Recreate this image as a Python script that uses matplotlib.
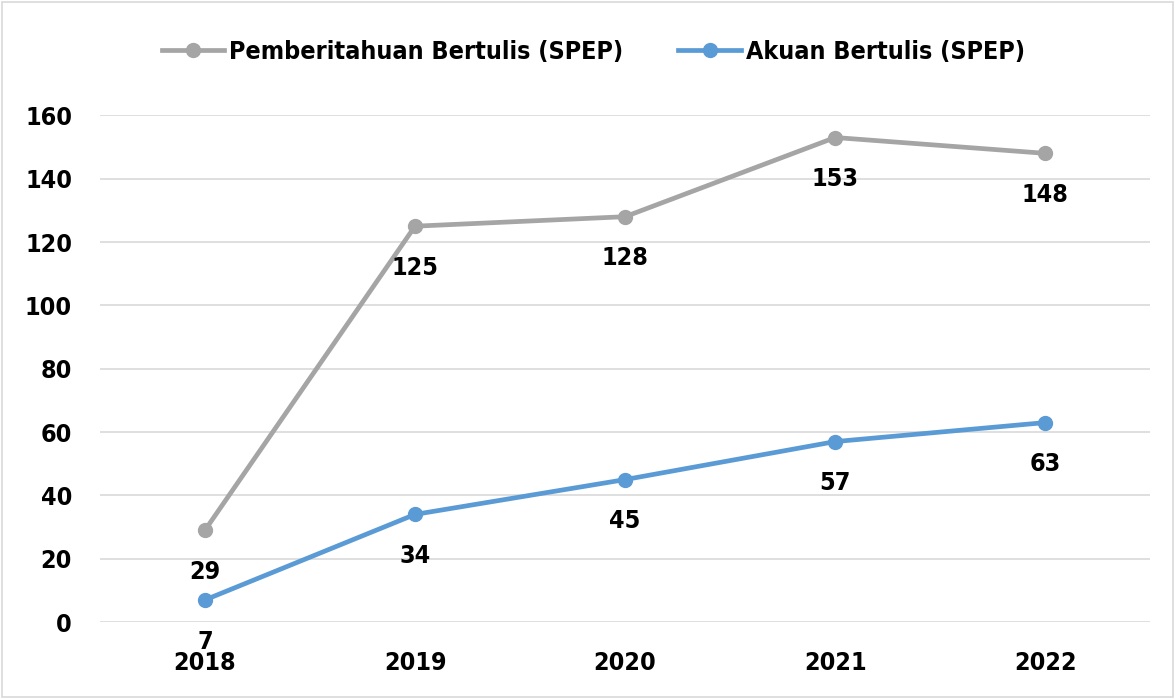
import matplotlib.pyplot as plt
from matplotlib.patches import Rectangle

# data
years = ['2018', '2019', '2020', '2021', '2022']
pemberitahuan = [29, 125, 128, 153, 148]
akuan = [7, 34, 45, 57, 63]
series_names = ['Pemberitahuan Bertulis (SPEP)', 'Akuan Bertulis (SPEP)']

plt.rcParams['font.family'] = ['DejaVu Sans Condensed', 'Liberation Sans Narrow', 'DejaVu Sans']
plt.rcParams['font.stretch'] = 'condensed'
plt.rcParams['font.weight'] = 'bold'

fig = plt.figure(figsize=(11.75, 6.99), dpi=100)
ax = fig.add_axes([0.085, 0.110, 0.894, 0.725])

x = list(range(len(years)))
colors = ['#A5A5A5', '#5B9BD5']
for vals, name, c in zip([pemberitahuan, akuan], series_names, colors):
    ax.plot(x, vals, color=c, lw=3.4, marker='o', markersize=10,
            label=name, clip_on=False, zorder=3)
    # value labels under each point
    for xi, v in zip(x, vals):
        ax.annotate(str(v), (xi, v), xytext=(0, -30), textcoords='offset points',
                    ha='center', va='center', fontsize=18, fontweight='bold')

ax.set_xlim(-0.5, len(years) - 0.5)
ax.set_ylim(0, 160)
ax.set_yticks(range(0, 161, 20))
ax.set_xticks(x)
ax.set_xticklabels(years)
ax.tick_params(axis='both', length=0, labelsize=18)
ax.tick_params(axis='x', pad=21)
ax.tick_params(axis='y', pad=20)
ax.grid(axis='y', color='#D9D9D9', lw=1.2)
ax.set_axisbelow(True)
for s in ax.spines.values():
    s.set_visible(False)

fig.legend(loc='center', bbox_to_anchor=(0.505, 1 - 52 / 699), ncol=2, frameon=False,
           fontsize=18, handlelength=2.5, columnspacing=2.2, handletextpad=0.2)

# light frame round the whole chart
fig.patches.append(Rectangle((0.002, 0.003), 0.996, 0.994, transform=fig.transFigure,
                             fill=False, edgecolor='#D9D9D9', lw=1.2))

fig.savefig('out.png', dpi=100)
